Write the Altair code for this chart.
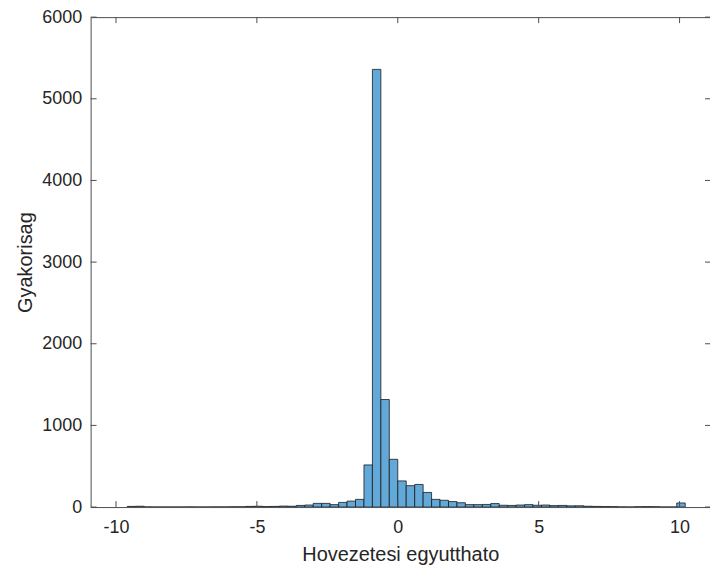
import altair as alt
import pandas as pd

# Histogram bins (left edges, width 0.3) and counts
bin_starts = [-9.9, -9.6, -9.3, -9.0, -8.7, -8.4, -8.1, -7.8, -7.5, -7.2,
              -6.9, -6.6, -6.3, -6.0, -5.7, -5.4, -5.1, -4.8, -4.5, -4.2,
              -3.9, -3.6, -3.3, -3.0, -2.7, -2.4, -2.1, -1.8, -1.5, -1.2,
              -0.9, -0.6, -0.3, 0.0, 0.3, 0.6, 0.9, 1.2, 1.5, 1.8,
              2.1, 2.4, 2.7, 3.0, 3.3, 3.6, 3.9, 4.2, 4.5, 4.8,
              5.1, 5.4, 5.7, 6.0, 6.3, 6.6, 6.9, 7.2, 7.5, 7.8,
              8.1, 8.4, 8.7, 9.0, 9.3, 9.6, 9.9]
counts = [0, 8, 10, 2, 1, 1, 1, 1, 2, 1,
          1, 2, 2, 3, 3, 8, 10, 6, 8, 12,
          10, 20, 25, 45, 45, 30, 57, 73, 94, 516,
          5360, 1317, 585, 320, 262, 277, 179, 94, 83, 67,
          53, 30, 30, 32, 43, 22, 20, 25, 30, 22,
          25, 18, 20, 15, 16, 10, 8, 6, 5, 2,
          1, 4, 5, 4, 1, 1, 50]
bin_width = 0.3

x_ticks = [-10, -5, 0, 5, 10]
y_ticks = [0, 1000, 2000, 3000, 4000, 5000, 6000]

x_title = "Hovezetesi egyutthato"
y_title = "Gyakorisag"

W, H = 622, 492
FONT = "Liberation Sans"
TXT = "#262626"
AX = "#4d4d4d"

df = pd.DataFrame({"start": bin_starts, "count": counts})
df["end"] = df["start"] + bin_width
df = df[df["count"] > 0]

xscale = alt.Scale(domain=[-10.9, 11.08], nice=False, zero=False)
yscale = alt.Scale(domain=[0, 6000], nice=False)

bars = alt.Chart(df).mark_rect(
    color="#62a8d8", stroke="#1a1a1a", strokeWidth=0.8, clip=True
).encode(
    x=alt.X("start:Q", scale=xscale,
            axis=alt.Axis(title=x_title, values=x_ticks, ticks=False, domain=False,
                          grid=False, labelExpr="'' + datum.value",
                          labelFont=FONT, labelFontSize=18, labelColor=TXT,
                          labelPadding=12, titleFont=FONT, titleFontSize=20,
                          titleFontWeight="normal", titleColor=TXT, titlePadding=8,
                          titleX=311)),
    x2="end:Q",
    y=alt.Y("count:Q", scale=yscale,
            axis=alt.Axis(title=y_title, values=y_ticks, ticks=False, domain=False,
                          grid=False, labelExpr="'' + datum.value",
                          labelFont=FONT, labelFontSize=18, labelColor=TXT,
                          labelPadding=9, titleFont=FONT, titleFontSize=20,
                          titleFontWeight="normal", titleColor=TXT, titlePadding=6)),
    y2=alt.datum(0),
)

xt = pd.DataFrame({"v": x_ticks})
yt = pd.DataFrame({"v": y_ticks})

xtick_bottom = alt.Chart(xt).mark_rule(color=AX, strokeWidth=1).encode(
    x=alt.X("v:Q", scale=xscale), y=alt.value(H), y2=alt.value(H - 6))
xtick_top = alt.Chart(xt).mark_rule(color=AX, strokeWidth=1).encode(
    x=alt.X("v:Q", scale=xscale), y=alt.value(0), y2=alt.value(6))
ytick_left = alt.Chart(yt).mark_rule(color=AX, strokeWidth=1).encode(
    y=alt.Y("v:Q", scale=yscale), x=alt.value(0), x2=alt.value(6))
ytick_right = alt.Chart(yt).mark_rule(color=AX, strokeWidth=1).encode(
    y=alt.Y("v:Q", scale=yscale), x=alt.value(W), x2=alt.value(W - 5))

chart = alt.layer(bars, xtick_bottom, xtick_top, ytick_left, ytick_right).properties(
    width=W, height=H,
    autosize=alt.AutoSizeParams(type="none"),
    padding={"left": 91, "top": 16, "right": 0, "bottom": 62},
    background="white",
).configure_view(stroke=AX, strokeWidth=1)

chart.save("out.html", embed_options={"renderer": "svg", "actions": False})
